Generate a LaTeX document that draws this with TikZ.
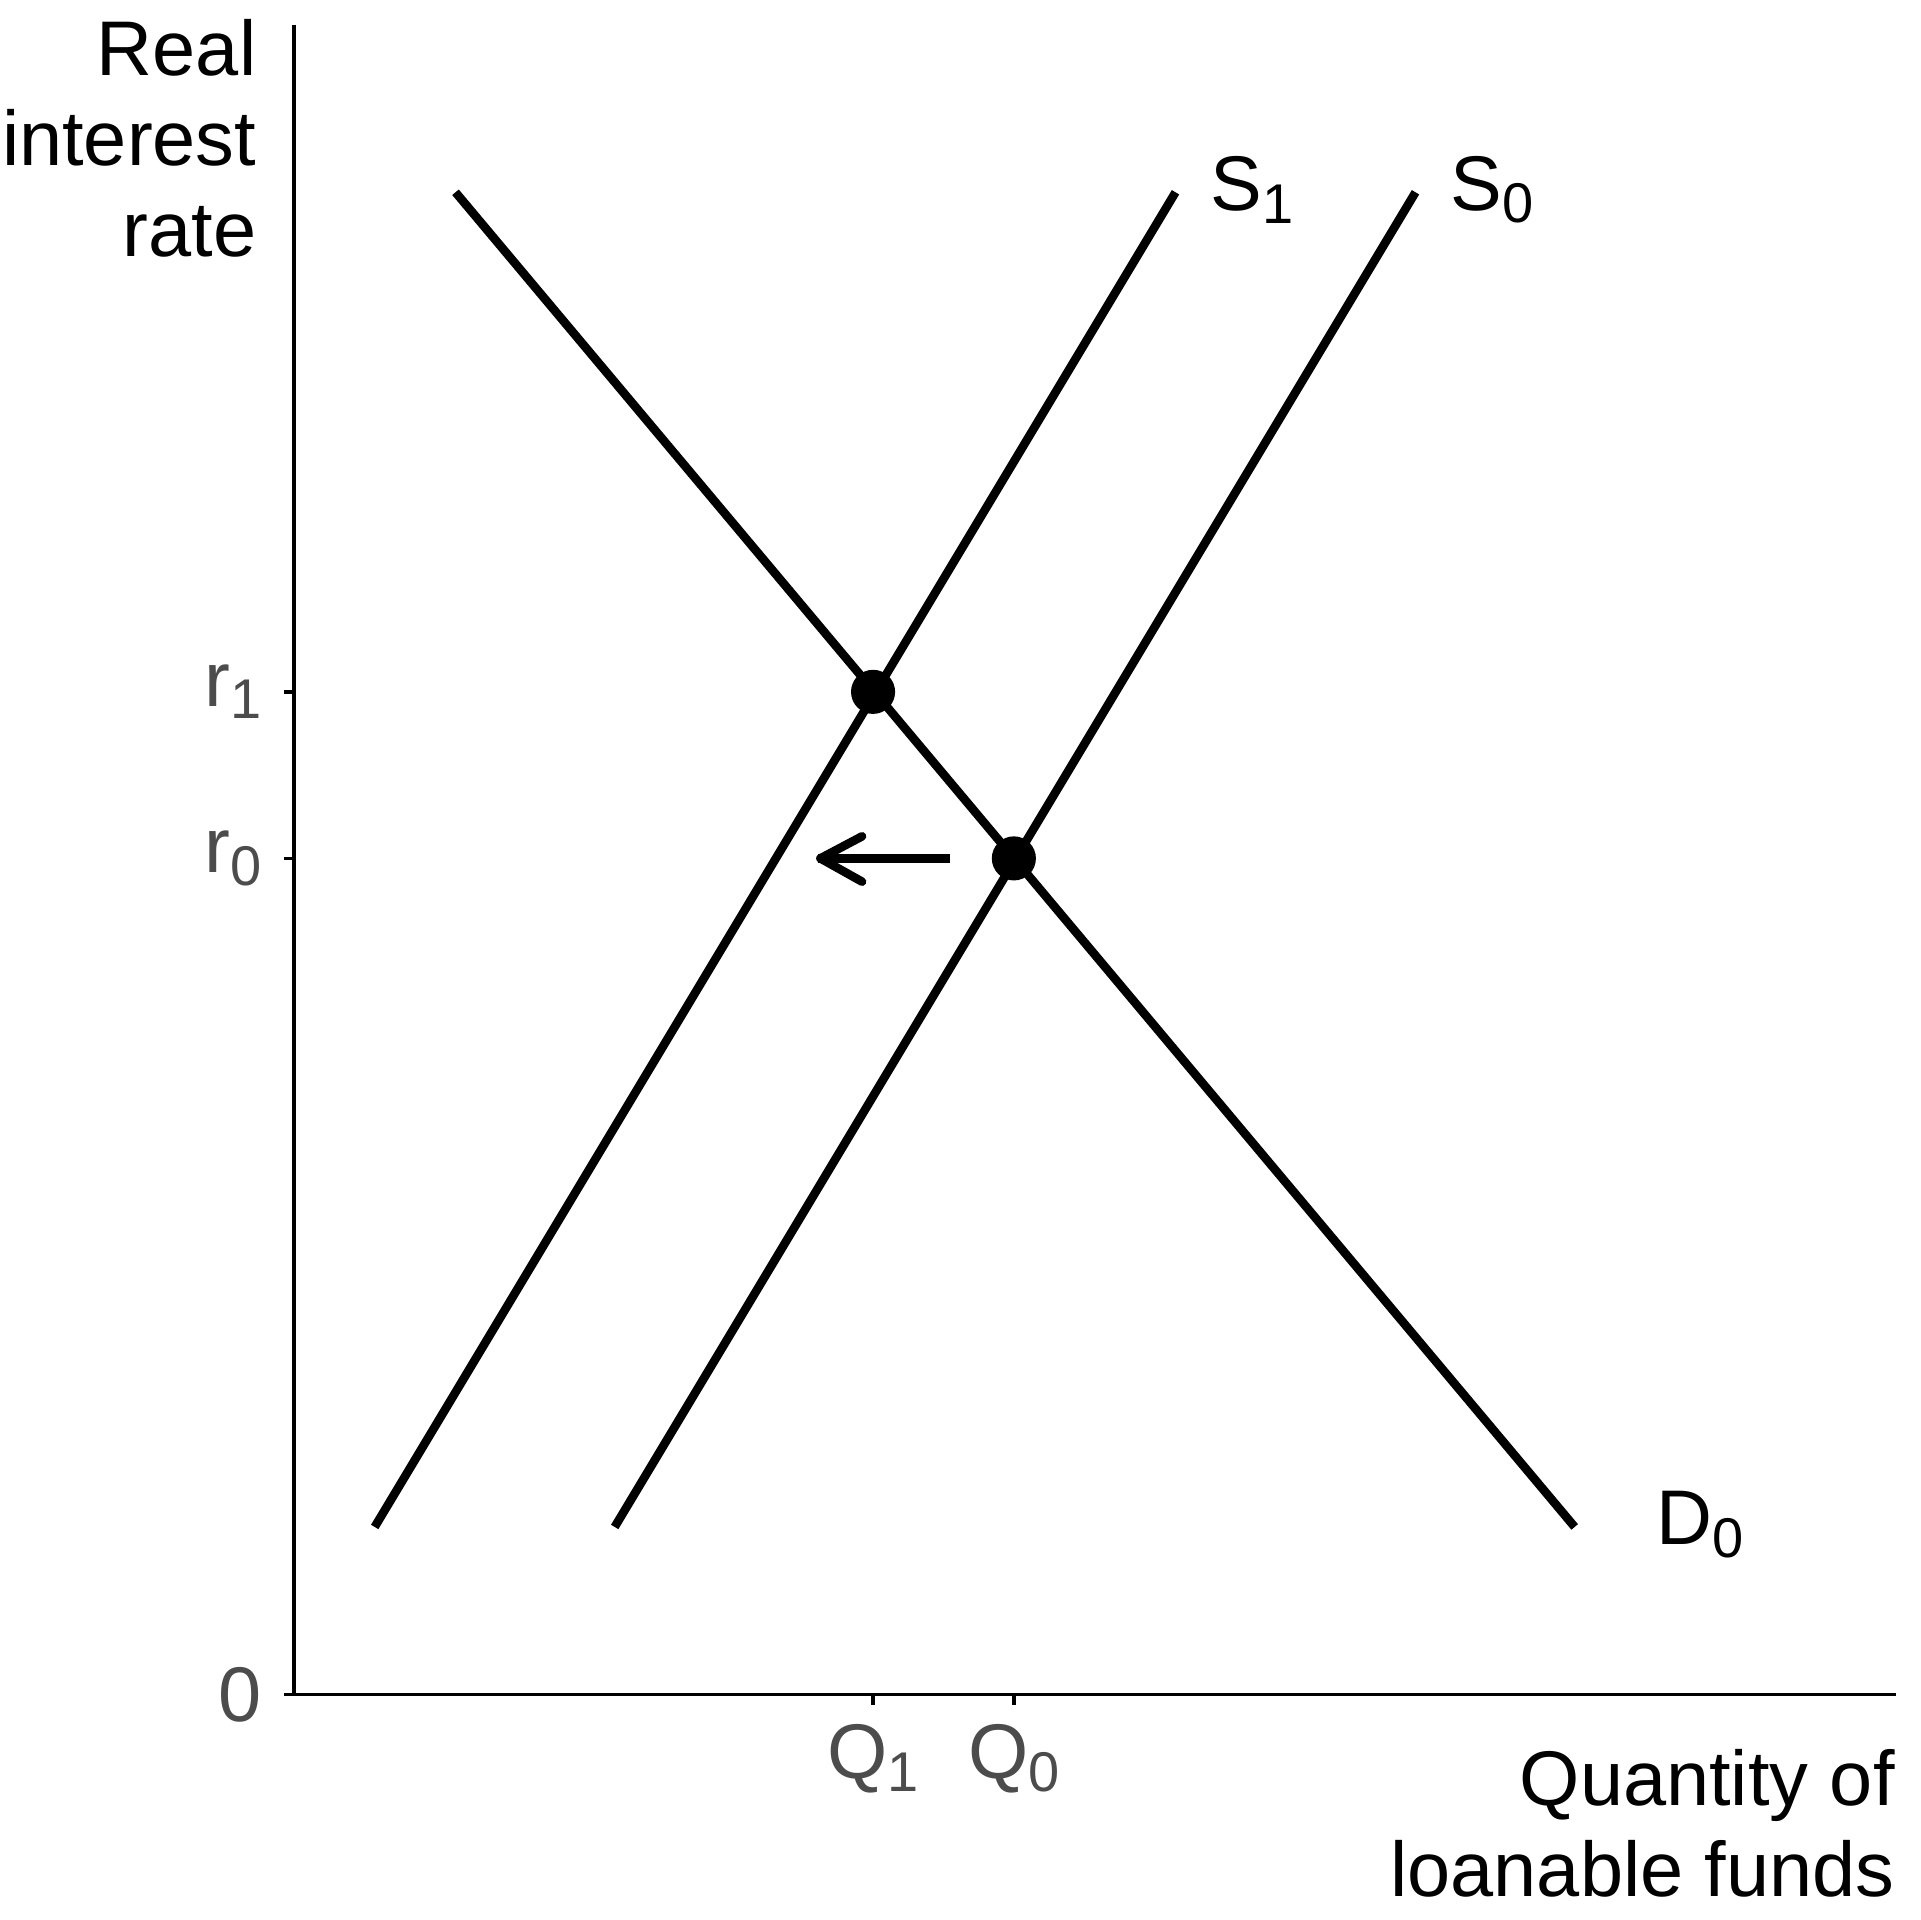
\documentclass[tikz,border=0pt]{standalone}
\usepackage{fontspec}
\setmainfont{Liberation Sans}
\newcommand{\sbx}[1]{\raisebox{-0.3ex}{\fontsize{13}{15}\selectfont #1}}
\begin{document}
\begin{tikzpicture}[x=0.01cm,y=-0.01cm,
 curve/.style={line width=2pt},
 ax/.style={line width=0.8pt},
 lab/.style={font=\fontsize{18}{21}\selectfont},
 tl/.style={font=\fontsize{18}{21}\selectfont, text=black!70},
 dot/.style={circle,fill=black,inner sep=0pt,minimum size=0.36cm}]
\useasboundingbox (0,0) rectangle (1568,1568);
\coordinate (yt) at (240,20); \coordinate (o) at (240,1384); \coordinate (xe) at (1548,1384);
\draw[ax] (yt) -- (o) -- (xe);
\foreach \y in {565,701,1384} \draw[ax] (232,\y) -- (240,\y);
\foreach \x in {713,828} \draw[ax] (\x,1384) -- (\x,1392);
\node[tl,anchor=east] (r1) at (226,565) {r\sbx{1}};
\node[tl,anchor=east] (r0) at (226,701) {r\sbx{0}};
\node[tl,anchor=east] (z) at (226,1384) {0};
\node[tl,anchor=north] (q1) at (713,1396) {Q\sbx{1}};
\node[tl,anchor=north] (q0) at (828,1396) {Q\sbx{0}};
\coordinate (d1) at (372,157); \coordinate (d2) at (1286,1247);
\coordinate (a1) at (306,1247); \coordinate (a2) at (960,157);
\coordinate (b1) at (502,1247); \coordinate (b2) at (1156,157);
\draw[curve] (d1) -- (d2);
\draw[curve] (a1) -- (a2);
\draw[curve] (b1) -- (b2);
\node[dot] (e1) at (713,565) {};
\node[dot] (e0) at (828,701) {};
\coordinate (as) at (776,701); \coordinate (ae) at (668,701);
\draw[curve] (as) -- (ae);
\draw[curve,line cap=round,line join=round] (704,683) -- (670,701) -- (704,720);
\node[lab,anchor=west] (s1) at (976,155) {S\sbx{1}};
\node[lab,anchor=west] (s0) at (1172,155) {S\sbx{0}};
\node[lab,anchor=west] (dd) at (1340,1245) {D\sbx{0}};
\node[lab,anchor=north east,align=right,inner sep=0pt] (yl) at (210,15) {Real\\interest\\rate};
\node[lab,anchor=north east,align=right,inner sep=0pt] (xl) at (1548,1428) {Quantity of\\loanable funds};
\end{tikzpicture}
\end{document}
